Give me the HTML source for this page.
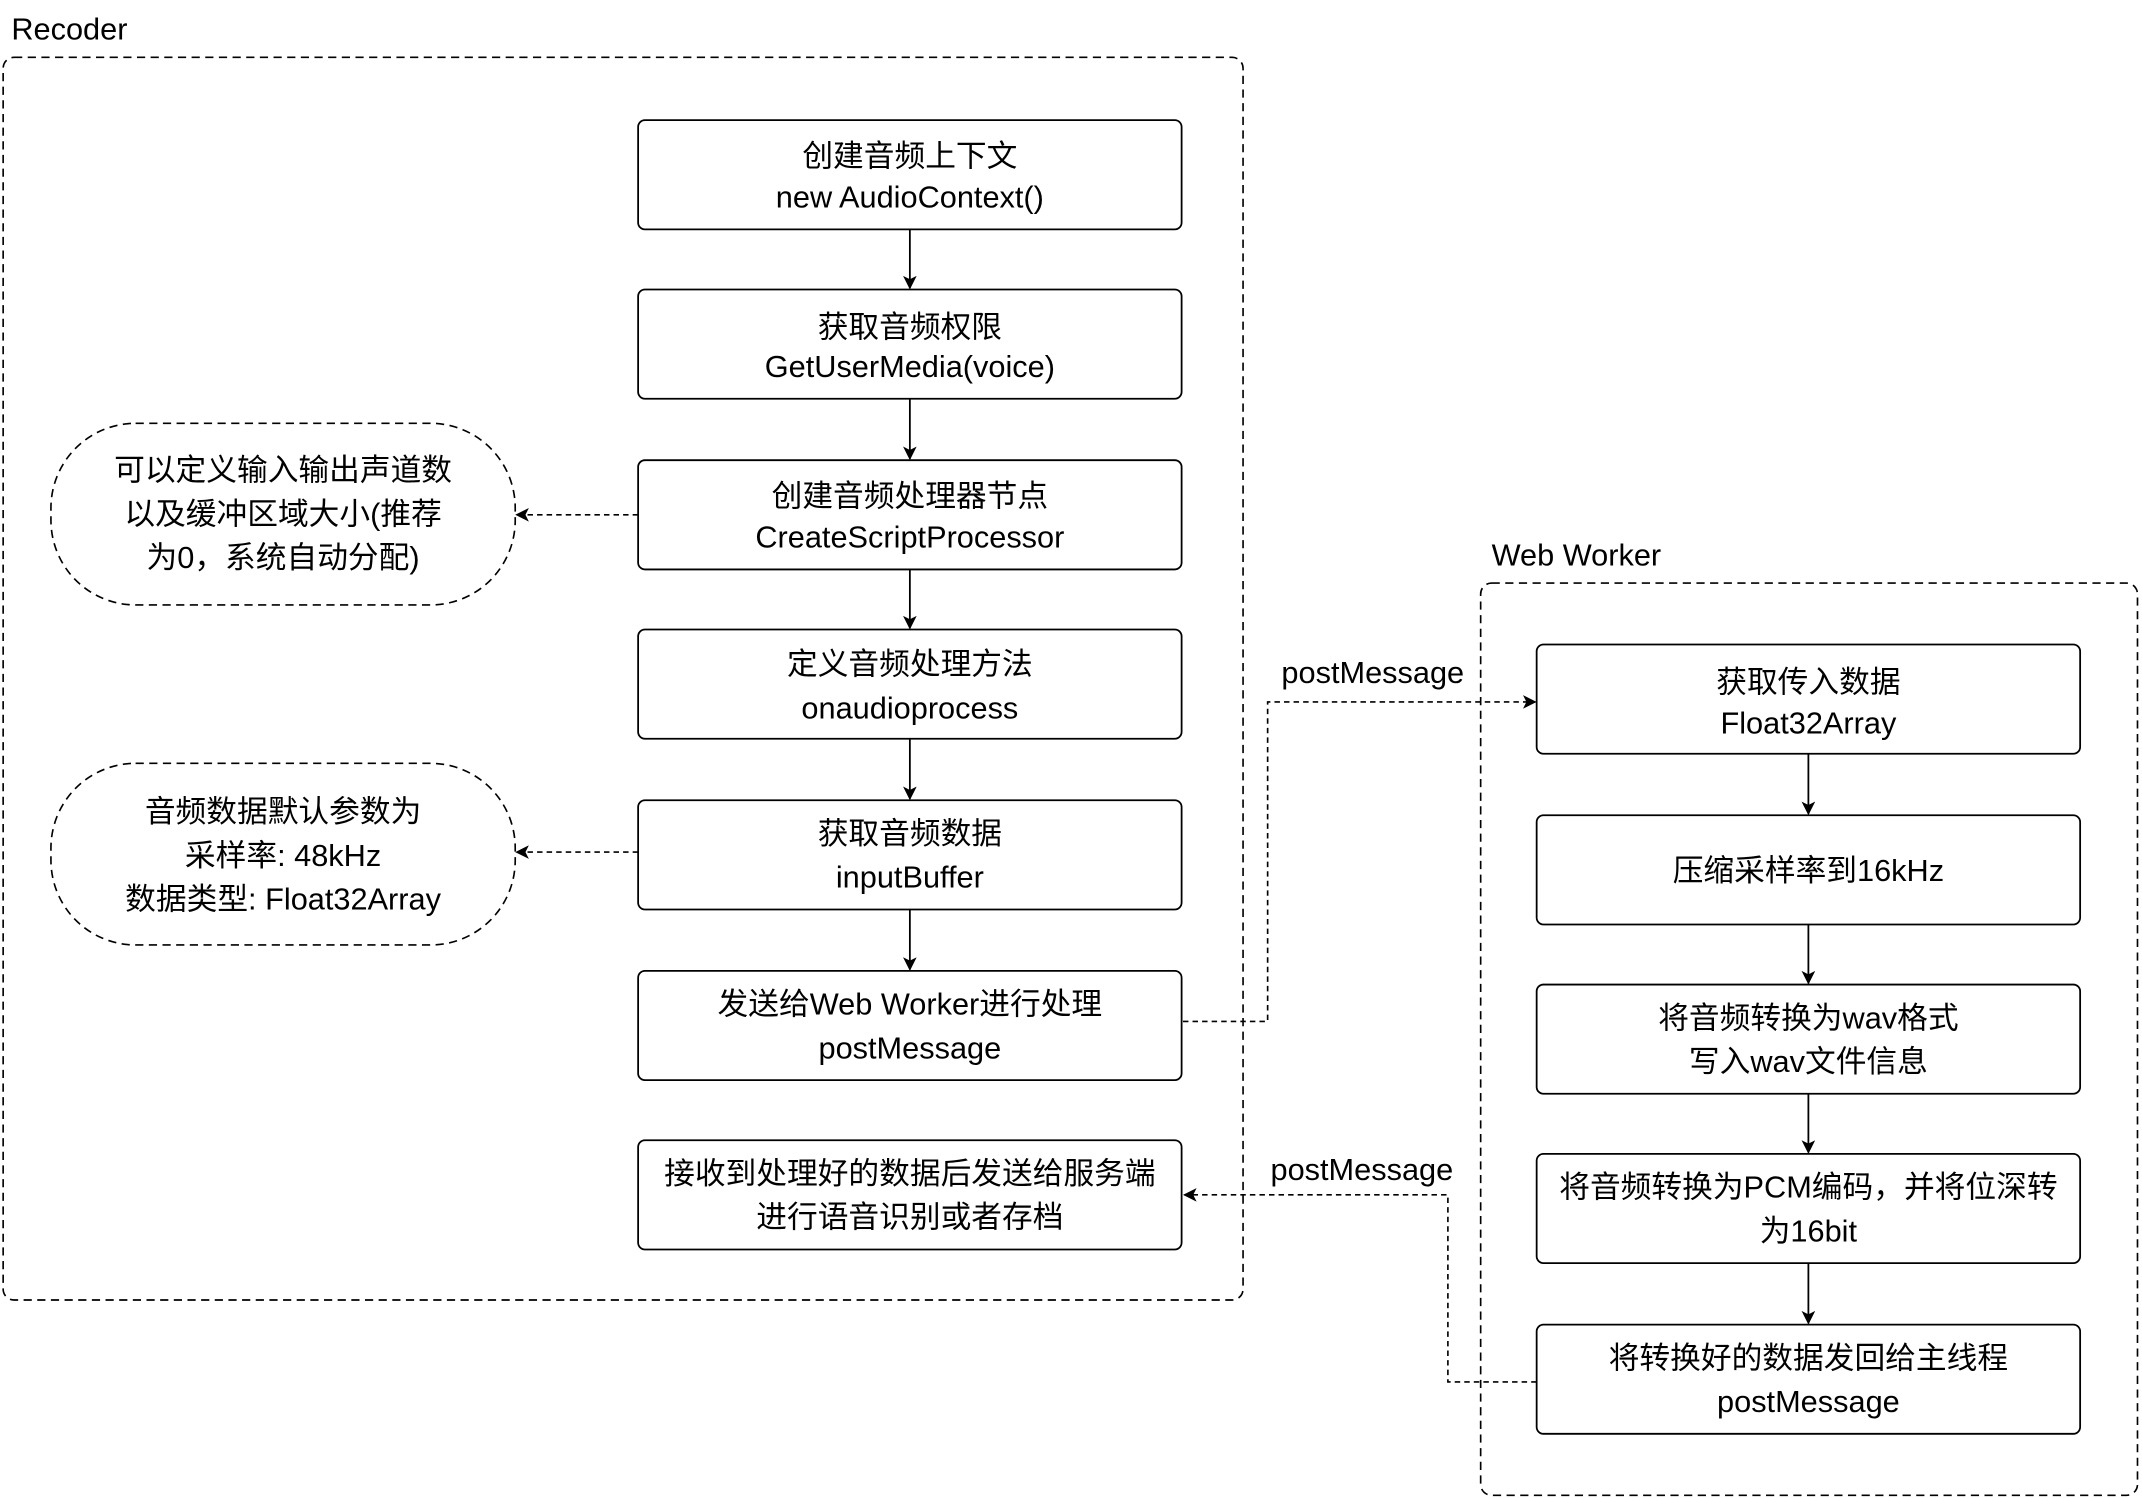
<!DOCTYPE html>
<html><head><meta charset="utf-8"><style>
html,body{margin:0;padding:0;background:#fff;}
svg{display:block;}
text{font-family:"Liberation Sans","Noto Sans CJK SC",sans-serif;font-size:22.5px;fill:#000;}
</style></head><body>
<svg width="2142" height="1498" viewBox="0 0 1568 1097" xmlns="http://www.w3.org/2000/svg">
<defs>
<marker id="a" markerWidth="10" markerHeight="10" refX="9" refY="5" orient="auto" markerUnits="userSpaceOnUse">
<path d="M0,0 L10,5 L0,10 L2.5,5 Z" fill="#000"/></marker>
</defs>
<rect width="1568" height="1097" fill="#fff"/>
<text x="8" y="29">Recoder</text>
<rect x="2" y="42" width="908" height="910" rx="8" fill="none" stroke="#000" stroke-width="1.2" stroke-dasharray="6,4"/>
<text x="1092" y="414">Web Worker</text>
<rect x="1084" y="427" width="481" height="668" rx="8" fill="none" stroke="#000" stroke-width="1.2" stroke-dasharray="6,4"/>

<g fill="#fff" stroke="#000" stroke-width="1.3">
<rect x="467" y="88" width="398" height="80" rx="5"/>
<rect x="467" y="212" width="398" height="80" rx="5"/>
<rect x="467" y="337" width="398" height="80" rx="5"/>
<rect x="467" y="461" width="398" height="80" rx="5"/>
<rect x="467" y="586" width="398" height="80" rx="5"/>
<rect x="467" y="711" width="398" height="80" rx="5"/>
<rect x="467" y="835" width="398" height="80" rx="5"/>
<rect x="1125" y="472" width="398" height="80" rx="5"/>
<rect x="1125" y="597" width="398" height="80" rx="5"/>
<rect x="1125" y="721" width="398" height="80" rx="5"/>
<rect x="1125" y="845" width="398" height="80" rx="5"/>
<rect x="1125" y="970" width="398" height="80" rx="5"/>
</g>
<g fill="none" stroke="#000" stroke-width="1.2" stroke-dasharray="6,4">
<rect x="37" y="310" width="340" height="133" rx="62"/>
<rect x="37" y="559" width="340" height="133" rx="62"/>
</g>

<g stroke="#000" stroke-width="1.3" marker-end="url(#a)">
<line x1="666" y1="168" x2="666" y2="211"/>
<line x1="666" y1="292" x2="666" y2="336"/>
<line x1="666" y1="417" x2="666" y2="460"/>
<line x1="666" y1="541" x2="666" y2="585"/>
<line x1="666" y1="666" x2="666" y2="710"/>
<line x1="1324" y1="552" x2="1324" y2="596"/>
<line x1="1324" y1="677" x2="1324" y2="720"/>
<line x1="1324" y1="801" x2="1324" y2="844"/>
<line x1="1324" y1="925" x2="1324" y2="969"/>
</g>
<g stroke="#000" stroke-width="1.2" fill="none" stroke-dasharray="4,3" marker-end="url(#a)">
<line x1="467" y1="377" x2="378" y2="377"/>
<line x1="467" y1="624" x2="378" y2="624"/>
<polyline points="866,748 928,748 928,514 1124,514"/>
<polyline points="1125,1012 1060,1012 1060,875 867,875"/>
</g>

<g text-anchor="middle">
<text x="666" y="122">创建音频上下文</text><text x="666" y="152">new AudioContext()</text>
<text x="666" y="247">获取音频权限</text><text x="666" y="276">GetUserMedia(voice)</text>
<text x="666" y="371">创建音频处理器节点</text><text x="666" y="401">CreateScriptProcessor</text>
<text x="666" y="494">定义音频处理方法</text><text x="666" y="526">onaudioprocess</text>
<text x="666" y="618">获取音频数据</text><text x="666" y="650">inputBuffer</text>
<text x="666" y="743">发送给Web Worker进行处理</text><text x="666" y="775">postMessage</text>
<text x="666" y="867">接收到处理好的数据后发送给服务端</text><text x="666" y="899">进行语音识别或者存档</text>
<text x="207" y="352">可以定义输入输出声道数</text><text x="207" y="384">以及缓冲区域大小(推荐</text><text x="207" y="416">为0，系统自动分配)</text>
<text x="207" y="602">音频数据默认参数为</text><text x="207" y="634">采样率: 48kHz</text><text x="207" y="666">数据类型: Float32Array</text>
<text x="1324" y="507">获取传入数据</text><text x="1324" y="537">Float32Array</text>
<text x="1324" y="645">压缩采样率到16kHz</text>
<text x="1324" y="753">将音频转换为wav格式</text><text x="1324" y="785">写入wav文件信息</text>
<text x="1324" y="877">将音频转换为PCM编码，并将位深转</text><text x="1324" y="909">为16bit</text>
<text x="1324" y="1002">将转换好的数据发回给主线程</text><text x="1324" y="1034">postMessage</text>
<text x="1005" y="500">postMessage</text>
<text x="997" y="864">postMessage</text>
</g>
</svg>
</body></html>
